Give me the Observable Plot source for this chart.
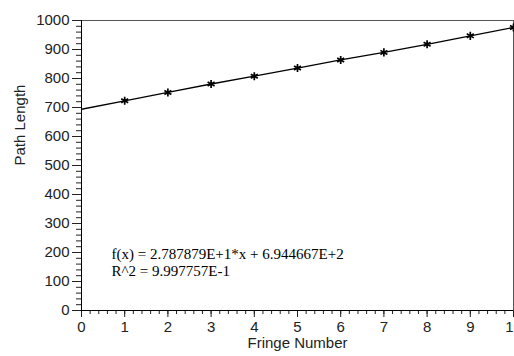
<!DOCTYPE html>
<html><head><meta charset="utf-8">
<script src="https://cdn.jsdelivr.net/npm/d3@7"></script>
<script src="https://cdn.jsdelivr.net/npm/@observablehq/plot@0.6"></script>
<style>body{margin:0;background:#fff;overflow:hidden}</style>
</head><body><div id="chart"></div>
<script>
const fringe = [1, 2, 3, 4, 5, 6, 7, 8, 9, 10];
const pathLength = [723, 752, 781, 808, 836, 864, 890, 918, 947, 976];
const curveX = [0, 1, 2, 3, 4, 5, 6, 7, 8, 9, 10];
const curveY = [694, 723, 752, 781, 808, 836, 864, 890, 918, 947, 976];
const xTicks = [0, 1, 2, 3, 4, 5, 6, 7, 8, 9, 10];
const yTicks = [0, 100, 200, 300, 400, 500, 600, 700, 800, 900, 1000];
const xMinor = d3.range(0, 10.001, 0.2);
const yMinor = d3.range(0, 1000.1, 20);
const xLabel = "Fringe Number";
const yLabel = "Path Length";
const fitText = "f(x) = 2.787879E+1*x + 6.944667E+2";
const r2Text = "R^2 = 9.997757E-1";

const points = fringe.map((f, i) => ({x: f, y: pathLength[i]}));
const curve = curveX.map((f, i) => ({x: f, y: curveY[i]}));

const chart = Plot.plot({
  width: 514, height: 356,
  marginLeft: 81, marginRight: 1, marginTop: 20, marginBottom: 46,
  style: {fontFamily: "Liberation Sans, Arial, sans-serif", fontSize: "15px", color: "#222", background: "#fff"},
  x: {domain: [0, 10]},
  y: {domain: [0, 1000]},
  marks: [
    Plot.frame({stroke: "#555"}),
    Plot.axisY({ticks: yMinor, tickSize: 5, tickFormat: () => "", label: null}),
    Plot.axisY({ticks: yTicks, tickSize: 9, tickPadding: 3, label: null, tickFormat: d => String(d)}),
    Plot.axisX({ticks: xMinor, tickSize: 4, tickFormat: () => "", label: null}),
    Plot.axisX({ticks: xTicks, tickSize: 7, tickPadding: 4, label: null, tickFormat: d => String(d)}),
    Plot.ruleX([0], {stroke: "#000"}),
    Plot.ruleY([0], {stroke: "#000"}),
    Plot.line(curve, {x: "x", y: "y", stroke: "#000", strokeWidth: 1.3}),
    Plot.dot(points, {x: "x", y: "y", symbol: "asterisk", r: 3.8, stroke: "#000", strokeWidth: 1.7}),
    Plot.text([yLabel], {frameAnchor: "left", dx: -61, rotate: -90, fontSize: 15, fill: "#222"}),
    Plot.text([xLabel], {frameAnchor: "bottom", dy: 37, fontSize: 15, fill: "#222"}),
    Plot.text([fitText], {frameAnchor: "bottom-left", textAnchor: "start", dx: 30, dy: -52, fontFamily: "Liberation Serif, Times New Roman, serif", fontSize: 15, fill: "#000"}),
    Plot.text([r2Text], {frameAnchor: "bottom-left", textAnchor: "start", dx: 30, dy: -35, fontFamily: "Liberation Serif, Times New Roman, serif", fontSize: 15, fill: "#000"})
  ]
});
document.getElementById("chart").appendChild(chart);
</script>
</body></html>
